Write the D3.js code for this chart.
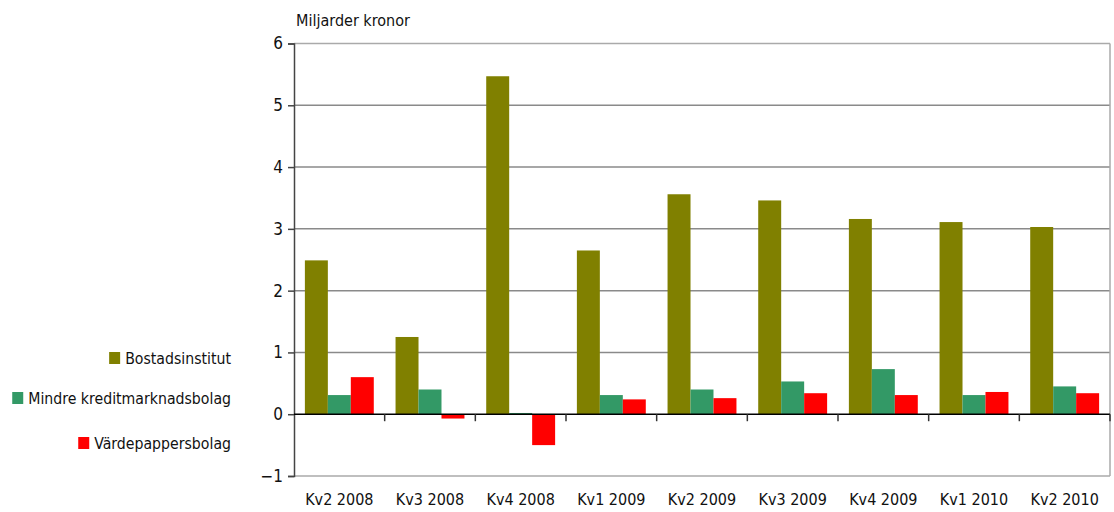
<!DOCTYPE html>
<html><head><meta charset="utf-8">
<script src="https://cdn.jsdelivr.net/npm/d3@7"></script>
<style>
body{margin:0;background:#fff;}
text{font-family:"DejaVu Sans Condensed","DejaVu Sans";font-stretch:condensed;fill:#111;}
</style></head>
<body><svg id="c" width="1114" height="512"></svg>
<script>
const categories = ["Kv2 2008","Kv3 2008","Kv4 2008","Kv1 2009","Kv2 2009","Kv3 2009","Kv4 2009","Kv1 2010","Kv2 2010"];
const seriesNames = ["Bostadsinstitut","Mindre kreditmarknadsbolag","Värdepappersbolag"];
const bostadsinstitut = [2.49,1.25,5.47,2.65,3.56,3.46,3.16,3.11,3.03];
const mindreKredit = [0.31,0.40,0.02,0.31,0.40,0.53,0.73,0.31,0.45];
const vardepapper = [0.60,-0.07,-0.50,0.24,0.26,0.34,0.31,0.36,0.34];
const colors = ["#808000","#339966","#ff0000"];
const yTicks = [-1,0,1,2,3,4,5,6];
const yTitle = "Miljarder kronor";

const series = [bostadsinstitut, mindreKredit, vardepapper];
const svg = d3.select("#c");
const L = 294, R = 1110, T = 43.5, B = 476;
const x = d3.scaleBand().domain(categories).range([L, R]).paddingInner(0.24).paddingOuter(0.12);
const xs = d3.scaleBand().domain(d3.range(3)).range([0, x.bandwidth()]);
const y = d3.scaleLinear().domain([-1, 6]).range([B, T]);

// gridlines
svg.append("g").selectAll("line").data(yTicks.filter(d => d !== 0)).join("line")
  .attr("x1", L).attr("x2", R).attr("y1", d => y(d)).attr("y2", d => y(d))
  .attr("stroke", d => (d === 6 || d === -1) ? "#aaa" : "#8a8a8a").attr("stroke-width", 1.5);
// right border
svg.append("line").attr("x1", R).attr("x2", R).attr("y1", T).attr("y2", B).attr("stroke", "#aaa").attr("stroke-width", 1.5);

// bars
categories.forEach((c, i) => {
  series.forEach((s, k) => {
    const v = s[i];
    svg.append("rect")
      .attr("x", x(c) + xs(k)).attr("width", xs.bandwidth())
      .attr("y", y(Math.max(0, v))).attr("height", Math.abs(y(v) - y(0)))
      .attr("fill", colors[k]);
  });
});

// y axis
const yAxis = d3.axisLeft(y).tickValues(yTicks).tickSize(6).tickPadding(5).tickFormat(d => d < 0 ? "\u2212" + Math.abs(d) : d);
const gy = svg.append("g").attr("transform", `translate(${L},0)`).call(yAxis);
gy.select(".domain").attr("stroke", "#444").attr("stroke-width", 1.5);
gy.selectAll(".tick line").attr("stroke", "#444").attr("stroke-width", 1.5);
gy.selectAll("text").style("font-size", "17px").attr("fill", "#111");

// zero line with category ticks
svg.append("line").attr("x1", L).attr("x2", R).attr("y1", y(0)).attr("y2", y(0)).attr("stroke", "#000").attr("stroke-width", 1.5);
const bounds = categories.map(c => x(c) - x.step() * x.paddingInner() / 2).slice(1).concat([R]);
svg.append("g").selectAll("line").data(bounds).join("line")
  .attr("x1", d => d).attr("x2", d => d).attr("y1", y(0)).attr("y2", y(0) + 7)
  .attr("stroke", "#333").attr("stroke-width", 1.5);

// x labels
svg.append("g").selectAll("text").data(categories).join("text")
  .attr("x", d => x(d) + x.bandwidth() / 2).attr("y", 505)
  .attr("text-anchor", "middle").style("font-size", "16px").text(d => d);

// title
svg.append("text").attr("x", 296).attr("y", 26).style("font-size", "16px").text(yTitle);

// legend
const legY = [358, 398, 443];
seriesNames.forEach((n, k) => {
  const t = svg.append("text").attr("x", 231).attr("y", legY[k] + 5.5).attr("text-anchor", "end")
    .style("font-size", "15.7px").text(n);
  const w = t.node().getComputedTextLength();
  svg.append("rect").attr("x", 231 - w - 5 - 11).attr("y", legY[k] - 6).attr("width", 11).attr("height", 12).attr("fill", colors[k]);
});
</script></body></html>
